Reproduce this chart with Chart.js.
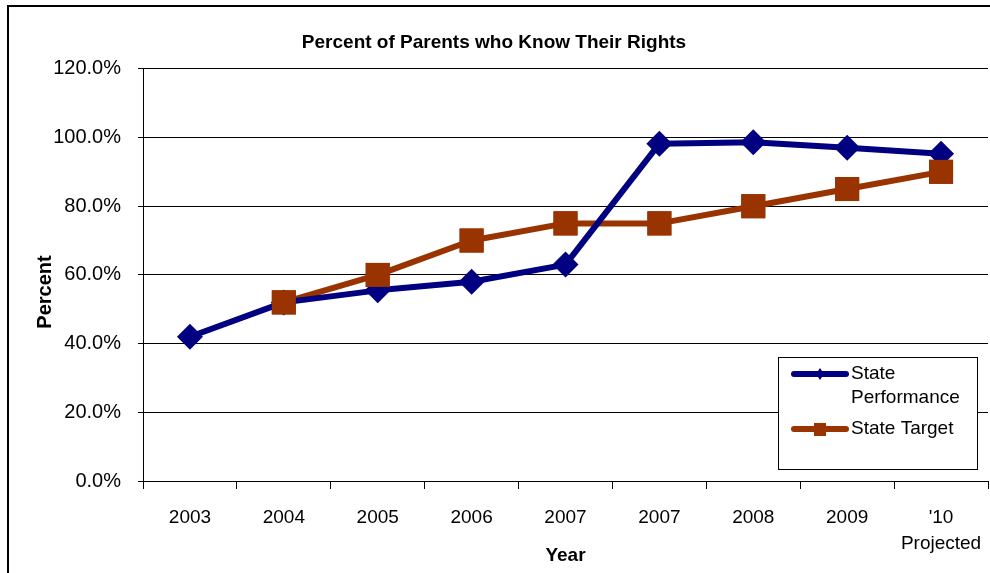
<!DOCTYPE html>
<html>
<head>
<meta charset="utf-8">
<title>Percent of Parents who Know Their Rights</title>
<script src="https://cdn.jsdelivr.net/npm/chart.js@4/dist/chart.umd.min.js"></script>
<style>
  html, body { margin: 0; padding: 0; background: #fff; }
  #wrap { position: relative; width: 990px; height: 573px; }
  canvas { display: block; }
</style>
</head>
<body>
<div id="wrap"><canvas id="chart" width="990" height="573"></canvas></div>
<script>
// Survey years (the final one is the projection)
const categories = ['2003', '2004', '2005', '2006', '2007', '2007', '2008', '2009', ["'10", 'Projected']];

// Percent of parents who know their rights
const statePerformance = [42, 52, 55.5, 58, 63, 98.2, 98.6, 97, 95.3];
const stateTarget = [null, 52, 60, 70, 75, 75, 80, 85, 90];

// Y axis range in percent
const yTicks = [0, 20, 40, 60, 80, 100, 120];

const seriesNames = ['State Performance', 'State Target'];
const yAxisTitle = 'Percent';
const NAVY = '#000080';
const RUST = '#993300';
const FONT = "'Liberation Sans', Arial, sans-serif";

// Outer frame of the chart object
const framePlugin = {
  id: 'frame',
  beforeDraw(chart) {
    const ctx = chart.ctx;
    ctx.save();
    ctx.fillStyle = '#fff';
    ctx.fillRect(0, 0, chart.width, chart.height);
    ctx.fillStyle = '#000';
    ctx.fillRect(7, 5, 2, chart.height - 5);
    ctx.fillRect(7, 5, chart.width - 7, 2);
    ctx.restore();
  }
};

// Target markers sit above both lines
const markersOnTop = {
  id: 'markersOnTop',
  afterDatasetsDraw(chart) {
    const meta = chart.getDatasetMeta(1);
    const ctx = chart.ctx;
    ctx.save();
    meta.data.forEach(pt => { if (!pt.skip) pt.draw(ctx, chart.chartArea); });
    ctx.restore();
  }
};

// Rotated value-axis title, set a little below the plot's middle
const yTitlePlugin = {
  id: 'yTitle',
  afterDraw(chart) {
    const ctx = chart.ctx;
    ctx.save();
    ctx.translate(45, 292);
    ctx.rotate(-Math.PI / 2);
    ctx.fillStyle = '#000';
    ctx.font = 'bold 20px ' + FONT;
    ctx.textAlign = 'center';
    ctx.textBaseline = 'middle';
    ctx.fillText(yAxisTitle, 0, 0);
    ctx.restore();
  }
};

// Boxed legend inside the plot area
const boxLegend = {
  id: 'boxLegend',
  afterDraw(chart) {
    const ctx = chart.ctx;
    const ds = chart.data.datasets;
    ctx.save();
    ctx.fillStyle = '#fff';
    ctx.fillRect(778, 357, 199, 112);
    ctx.strokeStyle = '#000';
    ctx.lineWidth = 1;
    ctx.strokeRect(778.5, 357.5, 199, 112);

    const drawEntry = (y, color, style) => {
      ctx.strokeStyle = color;
      ctx.lineWidth = 6;
      ctx.lineCap = 'round';
      ctx.beginPath();
      ctx.moveTo(794, y);
      ctx.lineTo(846, y);
      ctx.stroke();
      ctx.fillStyle = color;
      const cx = 820;
      ctx.beginPath();
      if (style === 'rectRot') {
        ctx.moveTo(cx - 4, y);
        ctx.lineTo(cx, y - 6);
        ctx.lineTo(cx + 4, y);
        ctx.lineTo(cx, y + 6);
        ctx.closePath();
      } else {
        ctx.rect(cx - 6, y - 6, 12, 13);
      }
      ctx.fill();
    };
    drawEntry(374, ds[0].borderColor, ds[0].pointStyle);
    drawEntry(429, ds[1].borderColor, ds[1].pointStyle);

    ctx.fillStyle = '#000';
    ctx.font = '19px ' + FONT;
    ctx.textBaseline = 'middle';
    ctx.textAlign = 'left';
    ctx.fillText('State', 851, 374);
    ctx.fillText('Performance', 851, 398);
    ctx.fillText(ds[1].label, 851, 429);
    ctx.restore();
  }
};

// The category axis keeps its labels inside the plot width, so it asks for no side padding
const noSidePadding = scale => {
  scale.paddingLeft = 0;
  scale.paddingRight = 0;
};

new Chart(document.getElementById('chart'), {
  type: 'line',
  data: {
    labels: categories,
    datasets: [
      {
        label: seriesNames[0],
        data: statePerformance,
        borderColor: NAVY,
        backgroundColor: NAVY,
        borderWidth: 6,
        tension: 0,
        pointStyle: 'rectRot',
        pointRadius: 13,
        pointBorderWidth: 0,
        pointBackgroundColor: NAVY,
        borderCapStyle: 'round',
        borderJoinStyle: 'round'
      },
      {
        label: seriesNames[1],
        data: stateTarget,
        borderColor: RUST,
        backgroundColor: RUST,
        borderWidth: 6,
        tension: 0,
        pointStyle: 'rect',
        pointRadius: 17,
        pointBorderWidth: 0,
        pointBackgroundColor: RUST,
        borderCapStyle: 'round',
        borderJoinStyle: 'round'
      }
    ]
  },
  options: {
    responsive: false,
    animation: false,
    devicePixelRatio: 1,
    layout: { autoPadding: false, padding: { left: 0, right: 2, top: 0, bottom: 0 } },
    plugins: {
      legend: { display: false },
      tooltip: { enabled: false },
      title: {
        display: true,
        text: 'Percent of Parents who Know Their Rights',
        color: '#000',
        font: { family: FONT, size: 19, weight: 'bold', lineHeight: 1.2 },
        padding: { top: 31, bottom: 15 }
      }
    },
    scales: {
      x: {
        type: 'category',
        offset: true,
        grid: {
          display: true,
          offset: true,
          drawOnChartArea: false,
          drawTicks: true,
          tickLength: 8,
          tickColor: '#000',
          tickWidth: 1
        },
        border: { display: true, color: '#000', width: 1 },
        ticks: {
          color: '#000',
          font: { family: FONT, size: 19, lineHeight: 1.35 },
          padding: 16,
          maxRotation: 0,
          autoSkip: false
        },
        title: {
          display: true,
          text: 'Year',
          color: '#000',
          font: { family: FONT, size: 19, weight: 'bold', lineHeight: 1.2 },
          padding: { top: 0, bottom: 6 }
        },
        afterFit(scale) {
          scale.height = 92;
          noSidePadding(scale);
        }
      },
      y: {
        min: yTicks[0],
        max: yTicks[yTicks.length - 1],
        afterBuildTicks(scale) { scale.ticks = yTicks.map(v => ({ value: v })); },
        grid: {
          color: '#000',
          lineWidth: 1,
          drawTicks: true,
          tickLength: 5,
          tickColor: '#000'
        },
        border: { display: true, color: '#000', width: 1 },
        ticks: {
          color: '#000',
          font: { family: FONT, size: 20 },
          padding: 17,
          callback: v => Number(v).toFixed(1) + '%'
        },
        title: { display: false },
        afterFit(scale) { scale.width = 143; }
      }
    }
  },
  plugins: [framePlugin, markersOnTop, yTitlePlugin, boxLegend]
});
</script>
</body>
</html>
